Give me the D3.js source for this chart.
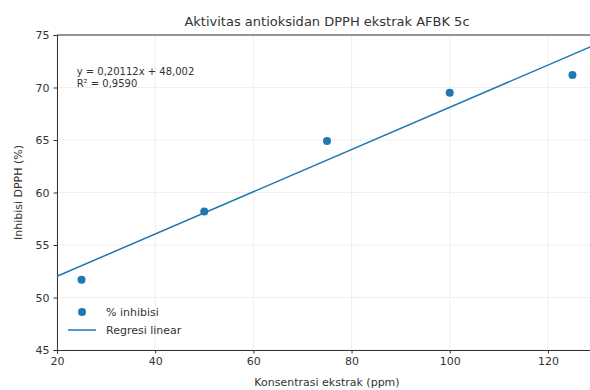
<!DOCTYPE html>
<html>
<head>
<meta charset="utf-8">
<script src="https://cdn.jsdelivr.net/npm/d3@7"></script>
<style>
  body { margin: 0; background: #fff; }
  text { font-family: "DejaVu Sans", sans-serif; fill: #333; }
</style>
</head>
<body>
<div id="vis"></div>
<script>
// data
var concentrations = [25, 50, 75, 100, 125];
var inhibition = [51.7, 58.2, 64.9, 69.5, 71.2];
var slope = 0.20112;
var intercept = 48.002;
var xTicks = [20, 40, 60, 80, 100, 120];
var yTicks = [45, 50, 55, 60, 65, 70, 75];
var equationLines = ["y = 0,20112x + 48,002", "R\u00b2 = 0,9590"];
var legendLabels = ["% inhibisi", "Regresi linear"];

var width = 590, height = 390;
var margin = { top: 35, right: -7, bottom: 40, left: 57 };
var blue = "#1f77b4";

var svg = d3.select("#vis").append("svg")
    .attr("width", width)
    .attr("height", height);

var x = d3.scaleLinear()
    .domain([20, 130])
    .range([margin.left, width - margin.right]);

var y = d3.scaleLinear()
    .domain([45, 75])
    .range([height - margin.bottom, margin.top]);

// grid
svg.append("g").selectAll("line").data(xTicks).join("line")
    .attr("x1", d => x(d)).attr("x2", d => x(d))
    .attr("y1", y(45)).attr("y2", y(75))
    .attr("stroke", "#ebebeb").attr("stroke-width", 0.8);
svg.append("g").selectAll("line").data(yTicks).join("line")
    .attr("x1", x(20)).attr("x2", x(130))
    .attr("y1", d => y(d)).attr("y2", d => y(d))
    .attr("stroke", "#ebebeb").attr("stroke-width", 0.8);

// axes
var xAxis = svg.append("g")
    .attr("transform", "translate(0," + y(45) + ")")
    .call(d3.axisBottom(x).tickValues(xTicks).tickSize(3.5).tickPadding(4));
var yAxis = svg.append("g")
    .attr("transform", "translate(" + x(20) + ",0)")
    .call(d3.axisLeft(y).tickValues(yTicks).tickSize(3.5).tickPadding(4));
[xAxis, yAxis].forEach(function(a) {
    a.selectAll("text").style("font-size", "11px").style("font-family", "DejaVu Sans").attr("fill", "#333");
    a.selectAll("line").attr("stroke", "#333");
    a.select(".domain").attr("stroke", "#333").attr("stroke-width", 1);
});

// top spine
svg.append("line")
    .attr("x1", x(20)).attr("x2", x(130))
    .attr("y1", y(75)).attr("y2", y(75))
    .attr("stroke", "#333").attr("stroke-width", 1);

// regression line
var lineX = [20, 130];
svg.append("path")
    .datum(lineX)
    .attr("fill", "none")
    .attr("stroke", blue)
    .attr("stroke-width", 1.5)
    .attr("d", d3.line().x(d => x(d)).y(d => y(slope * d + intercept)));

// points
svg.append("g").selectAll("circle").data(concentrations).join("circle")
    .attr("cx", d => x(d))
    .attr("cy", (d, i) => y(inhibition[i]))
    .attr("r", 4)
    .attr("fill", blue);

// equation
svg.append("g").selectAll("text").data(equationLines).join("text")
    .attr("x", x(24))
    .attr("y", (d, i) => y(71.2) + i * 12.5)
    .style("font-size", "10px")
    .text(d => d);

// title and labels
svg.append("text")
    .attr("x", (x(20) + x(130)) / 2)
    .attr("y", 26)
    .attr("text-anchor", "middle")
    .style("font-size", "13px")
    .text("Aktivitas antioksidan DPPH ekstrak AFBK 5c");

svg.append("text")
    .attr("x", (x(20) + x(130)) / 2)
    .attr("y", 386)
    .attr("text-anchor", "middle")
    .style("font-size", "11px")
    .text("Konsentrasi ekstrak (ppm)");

svg.append("text")
    .attr("transform", "translate(22," + (y(60)) + ") rotate(-90)")
    .attr("text-anchor", "middle")
    .style("font-size", "11px")
    .text("Inhibisi DPPH (%)");

// legend
var lg = svg.append("g");
lg.append("circle")
    .attr("cx", 82).attr("cy", 312).attr("r", 4).attr("fill", blue);
lg.append("line")
    .attr("x1", 68).attr("x2", 96).attr("y1", 330).attr("y2", 330)
    .attr("stroke", blue).attr("stroke-width", 1.5);
lg.selectAll("text").data(legendLabels).join("text")
    .attr("x", 106)
    .attr("y", (d, i) => 316 + i * 18)
    .style("font-size", "11px")
    .text(d => d);
</script>
</body>
</html>
